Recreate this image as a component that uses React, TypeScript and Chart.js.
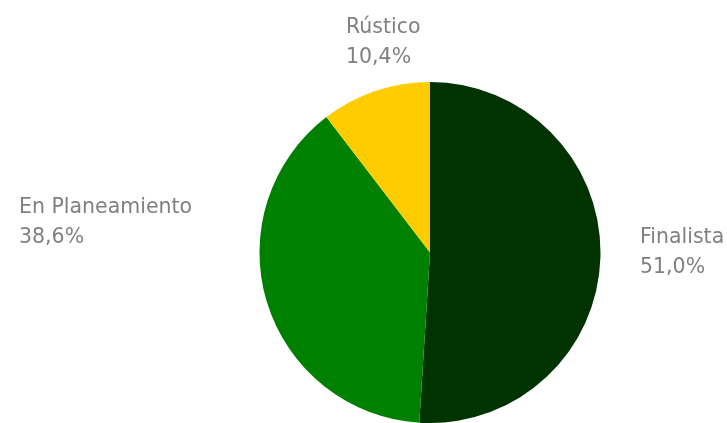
import React, { useEffect, useRef } from "react";
import { Chart, registerables } from "chart.js";

Chart.register(...registerables);

const categories = ["Finalista", "En Planeamiento", "Rústico"];
const values = [51.0, 38.6, 10.4];
const valueLabels = ["51,0%", "38,6%", "10,4%"];
const colors = ["#003300", "#008000", "#FFCC00"];

const labelPlugin = {
  id: "outsideLabels",
  afterDraw(chart: any) {
    const ctx = chart.ctx;
    const meta = chart.getDatasetMeta(0);
    const arc = meta.data[0];
    if (!arc) return;
    const cx = arc.x;
    const cy = arc.y;
    // label anchors relative to pie centre (left x, first-line baseline)
    const anchors = [
      [cx + 210, cy - 10],
      [cx - 411, cy - 40],
      [cx - 84, cy - 220],
    ];
    ctx.save();
    ctx.font = "20.5px 'DejaVu Sans'";
    ctx.fillStyle = "#808080";
    ctx.textAlign = "left";
    ctx.textBaseline = "alphabetic";
    categories.forEach((c, i) => {
      const [x, y] = anchors[i];
      ctx.fillText(c, x, y);
      ctx.fillText(valueLabels[i], x, y + 30);
    });
    ctx.restore();
  },
};

export default function App() {
  const ref = useRef<HTMLCanvasElement>(null);
  useEffect(() => {
    if (!ref.current) return;
    const chart = new Chart(ref.current, {
      type: "pie",
      data: {
        labels: categories,
        datasets: [
          {
            data: values,
            backgroundColor: colors,
            borderWidth: 0,
          },
        ],
      },
      options: {
        responsive: false,
        animation: false,
        layout: { padding: { top: 82, bottom: 0, left: 200, right: 67 } },
        plugins: {
          legend: { display: false },
          tooltip: { enabled: false },
        },
      },
      plugins: [labelPlugin],
    });
    return () => chart.destroy();
  }, []);
  return (
    <div style={{ position: "absolute", left: 0, top: 0, width: 727, height: 423, background: "#fff" }}>
      <canvas ref={ref} width={727} height={423} style={{ width: 727, height: 423 }} />
    </div>
  );
}
